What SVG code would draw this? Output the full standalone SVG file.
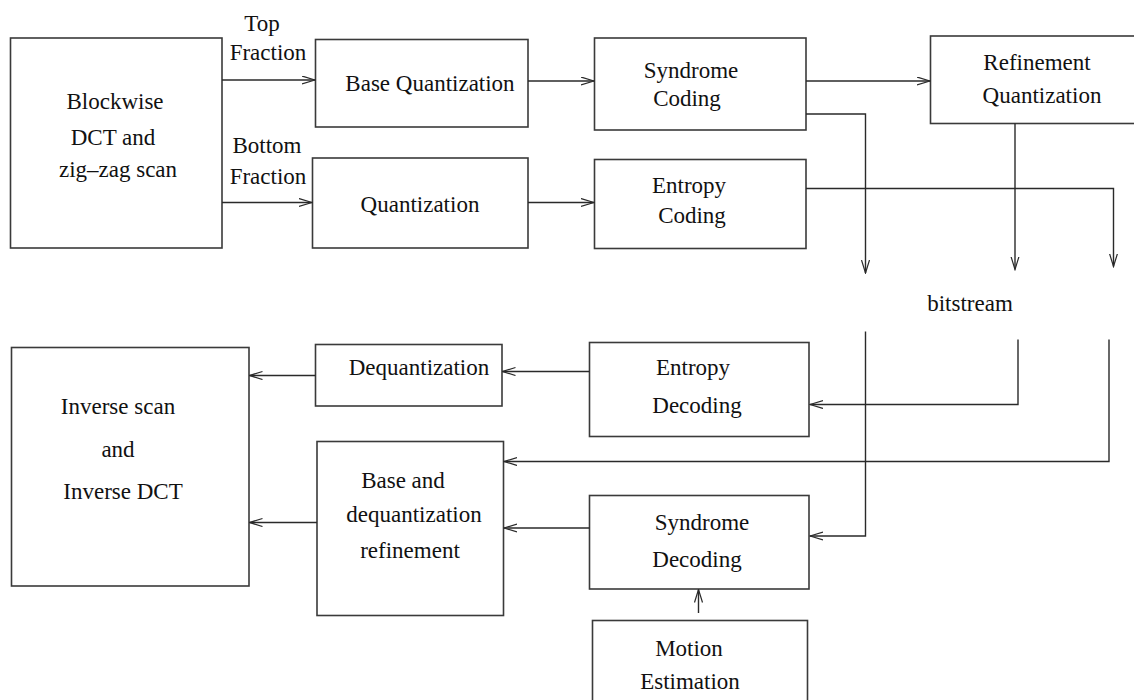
<svg xmlns="http://www.w3.org/2000/svg" width="1134" height="700" viewBox="0 0 1134 700">
  <style>
    .box { fill: #ffffff; stroke: #3a3a3a; stroke-width: 1.6; }
    .lbl { font-family: "Liberation Serif", "Times New Roman", serif; font-size: 23px; fill: #111111; text-anchor: middle; }
    .wire { fill: none; stroke: #2a2a2a; stroke-width: 1.4; }
  </style>
  <defs>
    <marker id="arrow" markerUnits="userSpaceOnUse" markerWidth="14" markerHeight="10" refX="13" refY="4.5" orient="auto">
      <path d="M0,0.5 L13,4.5 L0,8.5" fill="none" stroke="#2a2a2a" stroke-width="1.2"/>
    </marker>
  </defs>
  <rect width="1134" height="700" fill="#ffffff"/>

  <!-- encoder -->
  <g id="blockwise-dct">
    <rect class="box" x="10.5" y="38" width="211.5" height="210"/>
    <text class="lbl" x="115" y="109">Blockwise</text>
    <text class="lbl" x="113" y="145">DCT and</text>
    <text class="lbl" x="118" y="177">zig–zag scan</text>
  </g>
  <g id="base-quantization">
    <rect class="box" x="315.5" y="39.5" width="212.5" height="87.5"/>
    <text class="lbl" x="430" y="91">Base Quantization</text>
  </g>
  <g id="quantization">
    <rect class="box" x="312.5" y="158" width="215.5" height="90"/>
    <text class="lbl" x="420" y="212">Quantization</text>
  </g>
  <g id="syndrome-coding">
    <rect class="box" x="594.5" y="38" width="211.5" height="92"/>
    <text class="lbl" x="691" y="78">Syndrome</text>
    <text class="lbl" x="687" y="106">Coding</text>
  </g>
  <g id="entropy-coding">
    <rect class="box" x="594.5" y="159.5" width="211.5" height="89"/>
    <text class="lbl" x="689" y="193">Entropy</text>
    <text class="lbl" x="692" y="223">Coding</text>
  </g>
  <g id="refinement-quantization">
    <rect class="box" x="930.5" y="36" width="220" height="87.5"/>
    <text class="lbl" x="1037" y="70">Refinement</text>
    <text class="lbl" x="1042" y="103">Quantization</text>
  </g>
  <g id="bitstream">
    <text class="lbl" x="970" y="311">bitstream</text>
  </g>

  <!-- decoder -->
  <g id="inverse-scan-dct">
    <rect class="box" x="11.5" y="347.5" width="237.5" height="238.5"/>
    <text class="lbl" x="118" y="414">Inverse scan</text>
    <text class="lbl" x="118" y="457">and</text>
    <text class="lbl" x="123" y="499">Inverse DCT</text>
  </g>
  <g id="dequantization">
    <rect class="box" x="315.5" y="344.5" width="186.5" height="61.5"/>
    <text class="lbl" x="419" y="375">Dequantization</text>
  </g>
  <g id="base-dequant-refinement">
    <rect class="box" x="317" y="441.5" width="186.5" height="174"/>
    <text class="lbl" x="403" y="488">Base and</text>
    <text class="lbl" x="414" y="522">dequantization</text>
    <text class="lbl" x="410" y="558">refinement</text>
  </g>
  <g id="entropy-decoding">
    <rect class="box" x="589.5" y="342.5" width="219.5" height="94"/>
    <text class="lbl" x="693" y="375">Entropy</text>
    <text class="lbl" x="697" y="413">Decoding</text>
  </g>
  <g id="syndrome-decoding">
    <rect class="box" x="589.5" y="495.5" width="219.5" height="93.5"/>
    <text class="lbl" x="702" y="530">Syndrome</text>
    <text class="lbl" x="697" y="567">Decoding</text>
  </g>
  <g id="motion-estimation">
    <rect class="box" x="592.5" y="620.5" width="215" height="90"/>
    <text class="lbl" x="689" y="656">Motion</text>
    <text class="lbl" x="690" y="689">Estimation</text>
  </g>

  <!-- edge labels -->
  <g id="fraction-labels">
    <text class="lbl" x="262" y="31">Top</text>
    <text class="lbl" x="268" y="60">Fraction</text>
    <text class="lbl" x="267" y="153">Bottom</text>
    <text class="lbl" x="268" y="184">Fraction</text>
  </g>

  <g id="connectors">
    <path class="wire" d="M222,80 H315" marker-end="url(#arrow)"/>
    <path class="wire" d="M222,202.5 H312" marker-end="url(#arrow)"/>
    <path class="wire" d="M528,81 H594" marker-end="url(#arrow)"/>
    <path class="wire" d="M528,202.5 H594" marker-end="url(#arrow)"/>
    <path class="wire" d="M806,81 H930" marker-end="url(#arrow)"/>
    <path class="wire" d="M806,114 H865.5 V273" marker-end="url(#arrow)"/>
    <path class="wire" d="M1015,123.5 V269.5" marker-end="url(#arrow)"/>
    <path class="wire" d="M806,188.5 H1113.5 V266.5" marker-end="url(#arrow)"/>

    <path class="wire" d="M865.5,331.5 V536 H810" marker-end="url(#arrow)"/>
    <path class="wire" d="M1018,339.5 V404.5 H810" marker-end="url(#arrow)"/>
    <path class="wire" d="M1109,339.5 V461.5 H504" marker-end="url(#arrow)"/>
    <path class="wire" d="M589.5,371.5 H502.5" marker-end="url(#arrow)"/>
    <path class="wire" d="M589.5,528 H504" marker-end="url(#arrow)"/>
    <path class="wire" d="M315.5,375.5 H249.5" marker-end="url(#arrow)"/>
    <path class="wire" d="M317,522.5 H249.5" marker-end="url(#arrow)"/>
    <path class="wire" d="M698.5,613 V589.5" marker-end="url(#arrow)"/>
  </g>
</svg>
